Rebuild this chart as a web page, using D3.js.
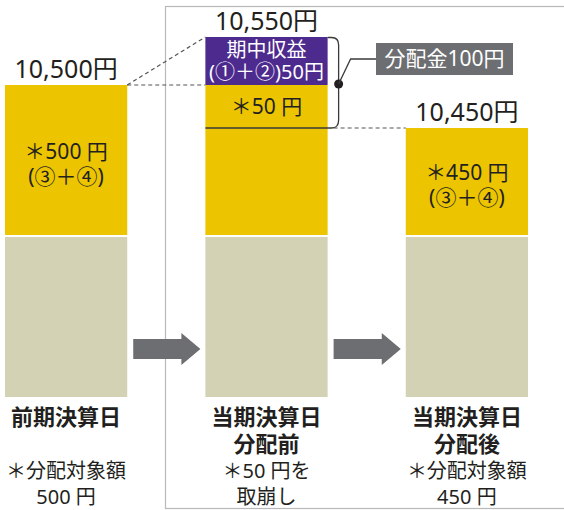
<!DOCTYPE html>
<html>
<head>
<meta charset="utf-8">
<script src="https://cdn.jsdelivr.net/npm/d3@7"></script>
<style>
  body { margin: 0; background: #fff; }
  text { font-family: "Noto Sans", "Noto Sans CJK JP", sans-serif; fill: #231f20; }
</style>
</head>
<body>
<svg id="chart" width="564" height="510"></svg>
<script>
"use strict";

// data
var stages = ["前期決算日", "当期決算日分配前", "当期決算日分配後"]
var stageTitles = [["前期決算日"], ["当期決算日", "分配前"], ["当期決算日", "分配後"]]
var stageNotes = [["＊分配対象額", "500 円"], ["＊50 円を", "取崩し"], ["＊分配対象額", "450 円"]]
var principal = [10000, 10000, 10000]
var reserve = [500, 500, 450]
var income = [0, 50, 0]
var reserveLabels = [["＊500 円", "(③＋④)"], ["＊50 円"], ["＊450 円", "(③＋④)"]]
var incomeLabel = ["期中収益", "(①＋②)50円"]
var distribution = 100

var colors = { base: "#d4d2b5", reserve: "#ecc400", income: "#4d2a8e", gray: "#6d6e71", frame: "#b9b9b9" }

var svg = d3.select("#chart")

var x = d3.scaleBand().domain(stages).range([5, 528]).paddingInner(0.39)
// schematic (not to scale) value axis
var y = d3.scaleLinear().domain([0, 10000, 10450, 10500, 10550]).range([397, 236, 128, 85, 37])
var bw = x.bandwidth()
var fmt = d3.format(",")

// frame around the current period
svg.append("rect")
    .attr("x", 165.5).attr("y", 6.5)
    .attr("width", 450).attr("height", 502)
    .attr("fill", "none")
    .attr("stroke", colors.frame)
    .attr("stroke-width", 1.2)

var totals = stages.map((s, i) => principal[i] + reserve[i] + income[i])

// bars
stages.forEach((s, i) => {
    var g = svg.append("g")
    var x0 = x(s)
    var p = principal[i]
    g.append("rect")
        .attr("x", x0).attr("width", bw)
        .attr("y", y(p) + 1).attr("height", y(0) - y(p) - 1)
        .attr("fill", colors.base)
    g.append("rect")
        .attr("x", x0).attr("width", bw)
        .attr("y", y(p + reserve[i])).attr("height", y(p) - 1 - y(p + reserve[i]))
        .attr("fill", colors.reserve)
    if (income[i] > 0) {
        g.append("rect")
            .attr("x", x0).attr("width", bw)
            .attr("y", y(totals[i])).attr("height", y(p + reserve[i]) - y(totals[i]))
            .attr("fill", colors.income)
    }
    // total label
    g.append("text")
        .attr("x", x0 + bw / 2)
        .attr("y", y(totals[i]) - 7)
        .attr("text-anchor", "middle")
        .style("font-size", "25px")
        .text(fmt(totals[i]) + "円")
    // titles & notes
    stageTitles[i].forEach((t, k) => {
        g.append("text")
            .attr("x", x0 + bw / 2).attr("y", 417 + k * 27)
            .attr("dy", "0.35em")
            .attr("text-anchor", "middle")
            .style("font-size", "22px").style("font-weight", "bold")
            .text(t)
    })
    stageNotes[i].forEach((t, k) => {
        g.append("text")
            .attr("x", x0 + bw / 2).attr("y", 471 + k * 26)
            .attr("dy", "0.35em")
            .attr("text-anchor", "middle")
            .style("font-size", "20px")
            .text(t)
    })
})

// labels inside the reserve part of bars 1 and 3
;[0, 2].forEach(i => {
    var mid = (y(principal[i]) + y(principal[i] + reserve[i])) / 2
    reserveLabels[i].forEach((t, k) => {
        svg.append("text")
            .attr("x", x(stages[i]) + bw / 2).attr("y", mid - 9 + k * 25)
            .attr("dy", "0.35em")
            .attr("text-anchor", "middle")
            .style("font-size", "21px")
            .text(t)
    })
})

// bar 2 detail: income + drawn-down reserve
var b2 = x(stages[1])
var yTop2 = y(totals[1])
var yInc = y(principal[1] + reserve[1])
var yCut = y(principal[2] + reserve[2])
incomeLabel.forEach((t, k) => {
    svg.append("text")
        .attr("x", b2 + bw / 2).attr("y", yTop2 + 13 + k * 22)
        .attr("dy", "0.35em")
        .attr("text-anchor", "middle")
        .style("font-size", "20px")
        .style("fill", "#fff")
        .text(t)
})
svg.append("text")
    .attr("x", b2 + bw / 2).attr("y", (yInc + yCut) / 2)
    .attr("dy", "0.35em")
    .attr("text-anchor", "middle")
    .style("font-size", "21px")
    .text(reserveLabels[1][0])

// bracket
var bx = b2 + bw
var bracket = d3.path()
bracket.moveTo(bx, yTop2 + 0.5)
bracket.lineTo(bx + 4, yTop2 + 0.5)
bracket.quadraticCurveTo(bx + 11, yTop2 + 0.5, bx + 11, yTop2 + 8)
bracket.lineTo(bx + 11, yCut - 8)
bracket.quadraticCurveTo(bx + 11, yCut, bx + 4, yCut)
bracket.lineTo(b2, yCut)
svg.append("path")
    .attr("d", bracket.toString())
    .attr("fill", "none")
    .attr("stroke", "#3a3a3a")
    .attr("stroke-width", 1.3)

var dotY = y(totals[0])
svg.append("circle")
    .attr("cx", bx + 11).attr("cy", dotY - 1).attr("r", 4.5)
    .attr("fill", "#231f20")
svg.append("path")
    .attr("d", "M" + (bx + 11) + "," + (dotY - 1) + "L" + (bx + 23) + "," + 59 + "L" + 376 + "," + 59)
    .attr("fill", "none")
    .attr("stroke", "#3a3a3a")
    .attr("stroke-width", 1.3)
svg.append("rect")
    .attr("x", 376).attr("y", 43).attr("width", 137).attr("height", 32)
    .attr("fill", colors.gray)
svg.append("text")
    .attr("x", 444.5).attr("y", 59).attr("dy", "0.35em")
    .attr("text-anchor", "middle")
    .style("font-size", "21px").style("fill", "#fff")
    .text("分配金" + distribution + "円")

// dashed guide lines
var dashes = [
    [x(stages[0]) + bw, y(totals[0]), b2, y(totals[1])],
    [x(stages[0]) + bw, y(totals[0]), b2, y(totals[0])],
    [bx + 6, y(totals[2]), x(stages[2]), y(totals[2])]
]
svg.selectAll(".dash")
    .data(dashes)
    .enter().append("line")
    .attr("class", "dash")
    .attr("x1", d => d[0]).attr("y1", d => d[1])
    .attr("x2", d => d[2]).attr("y2", d => d[3])
    .attr("stroke", "#555")
    .attr("stroke-width", 1.2)
    .attr("stroke-dasharray", "4,3")

// arrows between stages
;[0, 1].forEach(i => {
    var a = x(stages[i]) + bw + 6
    var b = x(stages[i + 1]) - 5
    var cy = 349
    var arrow = d3.path()
    arrow.moveTo(a, cy - 10)
    arrow.lineTo(b - 19, cy - 10)
    arrow.lineTo(b - 19, cy - 16)
    arrow.lineTo(b, cy)
    arrow.lineTo(b - 19, cy + 16)
    arrow.lineTo(b - 19, cy + 10)
    arrow.lineTo(a, cy + 10)
    arrow.closePath()
    svg.append("path").attr("d", arrow.toString()).attr("fill", colors.gray)
})
</script>
</body>
</html>
